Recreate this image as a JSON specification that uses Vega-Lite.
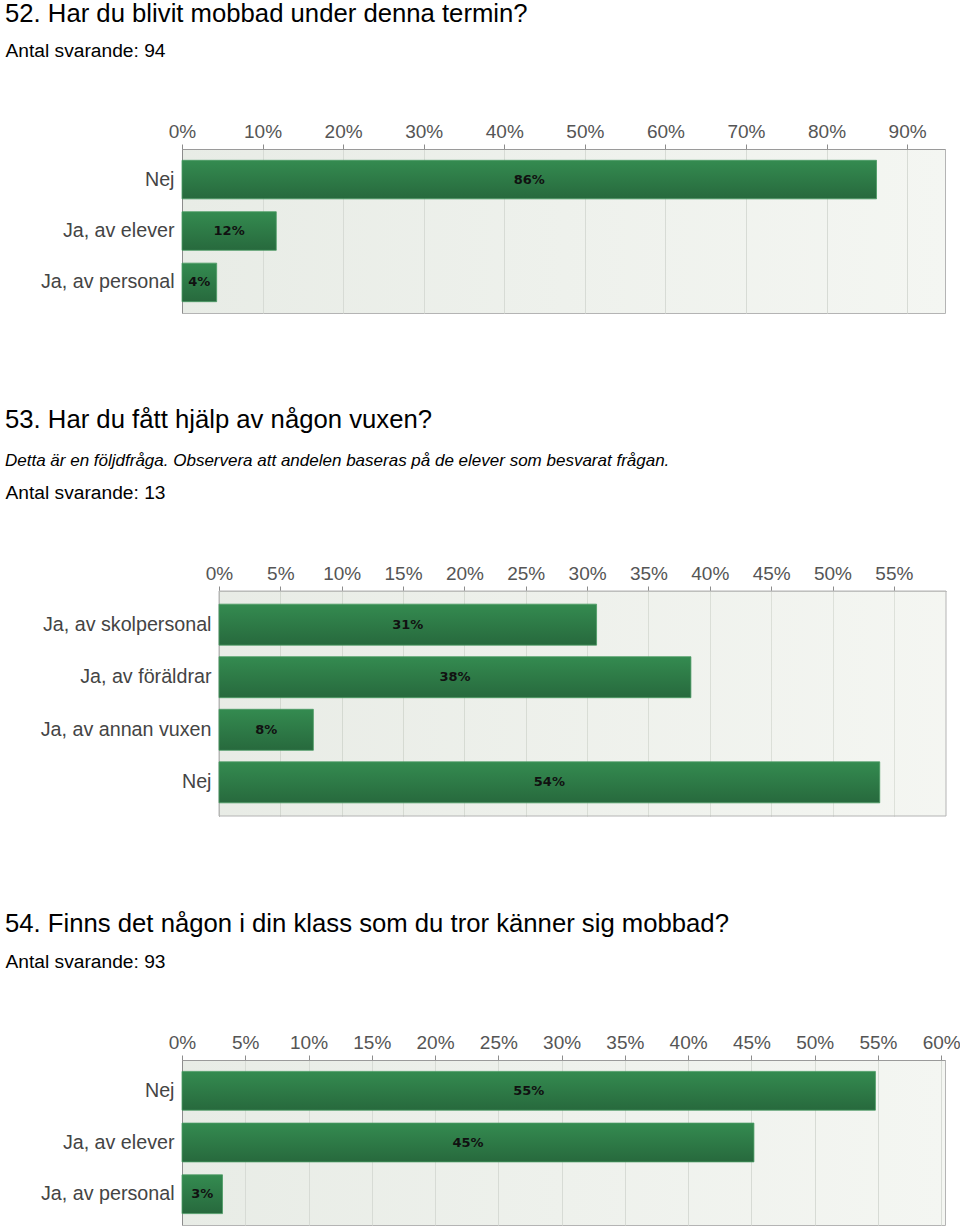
{
  "$schema": "https://vega.github.io/schema/vega-lite/v6.json",
  "padding": {"left": 4, "top": 0, "right": 0, "bottom": 0},
  "background": "white",
  "spacing": 93,
  "config": {
    "font": "Liberation Sans",
    "view": {"stroke": "#b4b4b4"},
    "title": {"font": "Liberation Sans", "fontSize": 25.7, "fontWeight": "normal", "color": "#000000", "anchor": "start", "frame": "group", "baseline": "alphabetic", "subtitleFont": "Liberation Sans", "subtitleFontSize": 17, "subtitleFontStyle": "italic", "subtitleColor": "#000000"},
    "axisX": {"format": ".0%", "labelFont": "Liberation Sans", "labelFontSize": 19, "labelColor": "#555555", "labelBaseline": "alphabetic", "labelPadding": 7, "tickSize": 5, "tickColor": "#8c8c8c", "domainColor": "#9a9a9a", "grid": true, "gridColor": "#d7dbd5", "titleFont": "Liberation Sans", "titleFontSize": 19.2, "titleFontWeight": "normal", "titleColor": "#000000", "titleAlign": "left", "titleBaseline": "alphabetic", "titleAnchor": "start", "titleY": -93, "labelFlush": false, "labelOverlap": false},
    "axisY": {"title": null, "labelFont": "Liberation Sans", "labelFontSize": 19.7, "labelColor": "#444444", "labelPadding": 8, "ticks": false, "domainColor": "#8c8c8c", "grid": false, "labelLimit": 300}
  },
  "vconcat": [
    {
      "width": 763,
      "height": 164,
      "title": {"text": "52. Har du blivit mobbad under denna termin?", "dx": -177, "offset": 13},
      "view": {"fill": {"gradient": "linear", "x1": 0, "y1": 0, "x2": 1, "y2": 0, "stops": [{"offset": 0, "color": "#e8ece6"}, {"offset": 1, "color": "#f4f6f2"}]}},
      "data": {"values": [
        {"svar": "Nej", "andel": 0.862},
        {"svar": "Ja, av elever", "andel": 0.117},
        {"svar": "Ja, av personal", "andel": 0.043}
      ]},
      "encoding": {
        "y": {"field": "svar", "type": "nominal", "sort": null, "scale": {"paddingInner": 0.25, "paddingOuter": 0.22}}
      },
      "layer": [
        {
          "mark": {"type": "bar", "color": {"gradient": "linear", "x1": 0, "y1": 0, "x2": 0, "y2": 1, "stops": [{"offset": 0, "color": "#348b50"}, {"offset": 1, "color": "#27693d"}]}, "stroke": "#4a9a63", "strokeWidth": 0.8},
          "encoding": {
            "x": {"field": "andel", "type": "quantitative", "scale": {"domain": [0, 0.947], "nice": false}, "axis": {"orient": "top", "values": [0, 0.1, 0.2, 0.3, 0.4, 0.5, 0.6, 0.7, 0.8, 0.9], "title": "Antal svarande: 94", "titleX": -177}}
          }
        },
        {
          "mark": {"type": "text", "font": "DejaVu Sans", "fontWeight": "bold", "fontSize": 13, "color": "#111111", "baseline": "middle", "align": "center"},
          "encoding": {
            "x": {"field": "andel", "type": "quantitative", "stack": "zero", "bandPosition": 0.5, "axis": {"orient": "top", "values": [0, 0.1, 0.2, 0.3, 0.4, 0.5, 0.6, 0.7, 0.8, 0.9], "title": "Antal svarande: 94", "titleX": -177}},
            "text": {"field": "andel", "type": "quantitative", "format": ".0%"}
          }
        }
      ]
    },
    {
      "width": 764,
      "height": 225,
      "title": {"text": "53. Har du fått hjälp av någon vuxen?", "subtitle": "Detta är en följdfråga. Observera att andelen baseras på de elever som besvarat frågan.", "dx": -177, "offset": 13, "subtitlePadding": 19},
      "view": {"fill": null, "stroke": null},
      "data": {"values": [
        {"svar": "Ja, av skolpersonal", "andel": 0.3077},
        {"svar": "Ja, av föräldrar", "andel": 0.3846},
        {"svar": "Ja, av annan vuxen", "andel": 0.0769},
        {"svar": "Nej", "andel": 0.5385}
      ]},
      "layer": [
        {
          "data": {"values": [{}]},
          "mark": {"type": "rect", "color": {"gradient": "linear", "x1": 0, "y1": 0, "x2": 1, "y2": 0, "stops": [{"offset": 0, "color": "#d9dfd5"}, {"offset": 1, "color": "#edf0e9"}]}, "fillOpacity": 0.6, "stroke": "#b4b4b4", "strokeOpacity": 1, "strokeWidth": 1},
          "encoding": {
            "x": {"datum": 0, "type": "quantitative", "scale": {"domain": [0, 0.5925], "range": [37, 764], "nice": false}, "axis": {"orient": "top", "values": [0, 0.05, 0.1, 0.15, 0.2, 0.25, 0.3, 0.35, 0.4, 0.45, 0.5, 0.55], "title": "Antal svarande: 13", "titleX": -177, "gridColor": "#c8ccc6"}},
            "x2": {"datum": 0.5925},
            "y": {"value": 0},
            "y2": {"value": "height"}
          }
        },
        {
          "mark": {"type": "bar", "color": {"gradient": "linear", "x1": 0, "y1": 0, "x2": 0, "y2": 1, "stops": [{"offset": 0, "color": "#348b50"}, {"offset": 1, "color": "#27693d"}]}, "stroke": "#4a9a63", "strokeWidth": 0.8},
          "encoding": {
            "y": {"field": "svar", "type": "nominal", "sort": null, "scale": {"paddingInner": 0.22, "paddingOuter": 0.25}, "axis": {"offset": -37}},
            "x": {"field": "andel", "type": "quantitative", "axis": {"orient": "top", "values": [0, 0.05, 0.1, 0.15, 0.2, 0.25, 0.3, 0.35, 0.4, 0.45, 0.5, 0.55], "title": "Antal svarande: 13", "titleX": -177, "gridColor": "#c8ccc6"}}
          }
        },
        {
          "mark": {"type": "text", "font": "DejaVu Sans", "fontWeight": "bold", "fontSize": 13, "color": "#111111", "baseline": "middle", "align": "center"},
          "encoding": {
            "y": {"field": "svar", "type": "nominal", "sort": null, "axis": {"offset": -37}},
            "x": {"field": "andel", "type": "quantitative", "stack": "zero", "bandPosition": 0.5, "axis": {"orient": "top", "values": [0, 0.05, 0.1, 0.15, 0.2, 0.25, 0.3, 0.35, 0.4, 0.45, 0.5, 0.55], "title": "Antal svarande: 13", "titleX": -177, "gridColor": "#c8ccc6"}},
            "text": {"field": "andel", "type": "quantitative", "format": ".0%"}
          }
        }
      ]
    },
    {
      "width": 763,
      "height": 165,
      "title": {"text": "54. Finns det någon i din klass som du tror känner sig mobbad?", "dx": -177, "offset": 14},
      "view": {"fill": {"gradient": "linear", "x1": 0, "y1": 0, "x2": 1, "y2": 0, "stops": [{"offset": 0, "color": "#e8ece6"}, {"offset": 1, "color": "#f4f6f2"}]}},
      "data": {"values": [
        {"svar": "Nej", "andel": 0.548},
        {"svar": "Ja, av elever", "andel": 0.452},
        {"svar": "Ja, av personal", "andel": 0.032}
      ]},
      "encoding": {
        "y": {"field": "svar", "type": "nominal", "sort": null, "scale": {"paddingInner": 0.25, "paddingOuter": 0.22}}
      },
      "layer": [
        {
          "mark": {"type": "bar", "color": {"gradient": "linear", "x1": 0, "y1": 0, "x2": 0, "y2": 1, "stops": [{"offset": 0, "color": "#348b50"}, {"offset": 1, "color": "#27693d"}]}, "stroke": "#4a9a63", "strokeWidth": 0.8},
          "encoding": {
            "x": {"field": "andel", "type": "quantitative", "scale": {"domain": [0, 0.603], "nice": false}, "axis": {"orient": "top", "values": [0, 0.05, 0.1, 0.15, 0.2, 0.25, 0.3, 0.35, 0.4, 0.45, 0.5, 0.55, 0.6], "title": "Antal svarande: 93", "titleX": -177}}
          }
        },
        {
          "mark": {"type": "text", "font": "DejaVu Sans", "fontWeight": "bold", "fontSize": 13, "color": "#111111", "baseline": "middle", "align": "center"},
          "encoding": {
            "x": {"field": "andel", "type": "quantitative", "stack": "zero", "bandPosition": 0.5, "axis": {"orient": "top", "values": [0, 0.05, 0.1, 0.15, 0.2, 0.25, 0.3, 0.35, 0.4, 0.45, 0.5, 0.55, 0.6], "title": "Antal svarande: 93", "titleX": -177}},
            "text": {"field": "andel", "type": "quantitative", "format": ".0%"}
          }
        }
      ]
    }
  ]
}
